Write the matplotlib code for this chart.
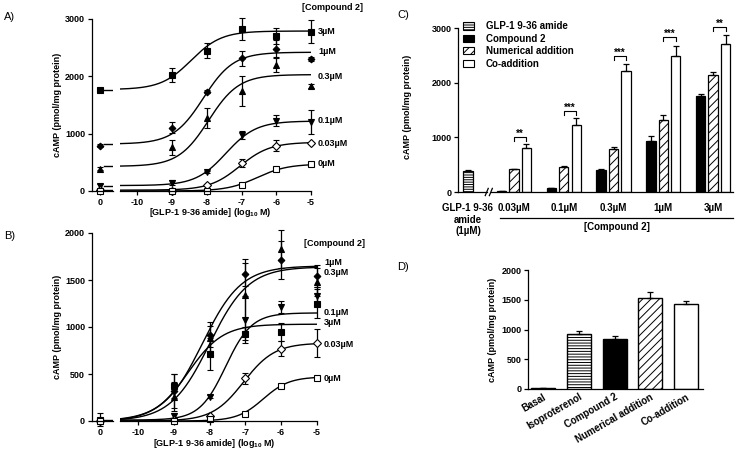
import matplotlib
matplotlib.use("Agg")
import matplotlib.pyplot as plt
from matplotlib.patches import Patch
import numpy as np

plt.rcParams['font.family'] = ['Liberation Sans', 'DejaVu Sans']
plt.rcParams['font.weight'] = 'bold'
plt.rcParams['font.size'] = 6.5
plt.rcParams['axes.linewidth'] = 0.9
plt.rcParams['axes.unicode_minus'] = False
plt.rcParams['hatch.linewidth'] = 0.7
plt.rcParams['xtick.major.width'] = 0.9
plt.rcParams['ytick.major.width'] = 0.9
plt.rcParams['mathtext.fontset'] = 'custom'
plt.rcParams['mathtext.rm'] = 'Liberation Sans:bold'
plt.rcParams['mathtext.bf'] = 'Liberation Sans:bold'

W, H = 737, 454

# ---------------- data ----------------
log_conc = [-9, -8, -7, -6, -5]
conc_labels = ['3µM', '1µM', '0.3µM', '0.1µM', '0.03µM', '0µM']

# panel A : series order = conc_labels
a_zero = [1760, 790, 390, 90, 10, 0]
a_zero_err = [20, 30, 20, 30, 10, 5]
a_vals = [[2024, 2449, 2822, 2705, 2780],
          [1105, 1733, 2316, 2480, 2304],
          [762, 1269, 1750, 2199, 1832],
          [145, 337, 977, 1227, 1210],
          [5, 105, 483, 791, 832],
          [0, 5, 100, 384, 466]]
a_err = [[120, 130, 190, 140, 200],
         [90, 20, 130, 150, 40],
         [130, 175, 260, 120, 30],
         [40, 20, 70, 95, 210],
         [10, 20, 70, 90, 20],
         [5, 5, 10, 15, 15]]
# fitted curve parameters (bottom, top, logEC50, hill)
a_fit = [(1770, 2790, -8.45, 1.0),
         (820, 2420, -8.1, 1.0),
         (430, 2030, -7.95, 1.0),
         (95, 1220, -7.45, 1.0),
         (15, 850, -7.05, 1.0),
         (0, 470, -6.55, 1.0)]
a_label_y = [2775, 2426, 1990, 1222, 820, 471]

# panel B
b_zero = [10, 15, 0, 5, 0, 0]
b_zero_err = [20, 70, 10, 10, 5, 5]
b_vals = [[370, 714, 929, 946, 1250],
          [320, 920, 1560, 1714, 1543],
          [260, 880, 1340, 1832, 1482],
          [50, 260, 1078, 1214, 1330],
          [10, 54, 454, 768, 827],
          [0, 18, 71, 368, 461]]
b_err = [[130, 170, 70, 100, 150],
         [180, 130, 120, 200, 120],
         [150, 130, 380, 200, 150],
         [40, 20, 250, 60, 100],
         [10, 15, 60, 80, 150],
         [5, 5, 10, 10, 10]]
b_fit = [(0, 1030, -8.6, 0.9),
         (0, 1650, -8.2, 0.8),
         (0, 1640, -8.0, 0.8),
         (10, 1150, -7.55, 1.2),
         (0, 830, -7.05, 1.0),
         (0, 470, -6.5, 1.2)]
b_label_y = [1043, 1691, 1585, 1149, 809, 457]

markers = ['s', 'D', '^', 'v', 'D', 's']
faces = ['k', 'k', 'k', 'k', 'w', 'w']
msizes = [4.0, 3.4, 4.0, 4.0, 4.4, 3.8]

# panel C
c_groups = ['0.03µM', '0.1µM', '0.3µM', '1µM', '3µM']
c_glp = 385
c_glp_err = 10
c_cpd = [20, 70, 400, 940, 1760]
c_cpd_err = [4, 8, 20, 90, 40]
c_num = [415, 463, 787, 1317, 2146]
c_num_err = [10, 12, 30, 100, 55]
c_co = [800, 1226, 2220, 2494, 2707]
c_co_err = [80, 120, 130, 180, 160]
c_stars = ['**', '***', '***', '***', '**']
c_bracket = [1010, 1480, 2490, 2830, 3020]

# panel D
d_cats = ['Basal', 'Isoproterenol', 'Compound 2', 'Numerical addition', 'Co-addition']
d_vals = [10, 927, 844, 1525, 1430]
d_err = [3, 45, 45, 100, 55]

fig = plt.figure(figsize=(W / 100, H / 100), dpi=100)


def px_axes(x0, y0, x1, y1):
    # axes placed by pixel box (left, top, right, bottom)
    return fig.add_axes([x0 / W, 1 - y1 / H, (x1 - x0) / W, (y1 - y0) / H])


def logistic(x, p):
    bottom, top, ec50, hill = p
    return bottom + (top - bottom) / (1 + 10 ** ((ec50 - x) * hill))


def noclip(cont):
    for art in cont.get_children():
        art.set_clip_on(False)


def dose_panel(top_px, bottom_px, right_px, ymax, yticks, zero, zero_err,
               vals, errs, fits, label_y, label_names):
    axL = px_axes(92, top_px, 113, bottom_px)
    axR = px_axes(120, top_px, right_px, bottom_px)
    for ax in (axL, axR):
        ax.set_ylim(0, ymax)
        ax.spines['top'].set_visible(False)
        ax.spines['right'].set_visible(False)
        ax.tick_params(length=3, pad=2, labelsize=6.5)
        ax.patch.set_alpha(0)
    axR.spines['left'].set_visible(False)
    axR.set_yticks([])
    axL.set_yticks(yticks)
    axL.set_xlim(-0.8, 1.3)
    axL.set_xticks([0])
    axR.set_xlim(-10.5, -5)
    axR.set_xticks(range(-10, -4))
    xs = np.linspace(-10.5, -5, 300)
    for i in range(len(zero)):
        kw = dict(fmt=markers[i], mfc=faces[i], mec='k', ms=msizes[i], mew=0.8,
                  ecolor='k', elinewidth=0.9, capsize=2.2, capthick=0.9, color='k')
        noclip(axL.errorbar([0], [zero[i]], yerr=[zero_err[i]], **kw))
        axL.plot([0.4, 1.3], [fits[i][0], fits[i][0]], color='k', lw=1.0)
        axR.plot(xs, logistic(xs, fits[i]), color='k', lw=1.0)
        noclip(axR.errorbar(log_conc, vals[i], yerr=errs[i], **kw))
        axR.annotate(label_names[i], xy=(-5, label_y[i]), xytext=(5, 0),
                     textcoords='offset points', va='center', ha='left',
                     fontsize=6.5, annotation_clip=False)
    return axL, axR


# ---------------- panel A ----------------
dose_panel(19, 191, 311, 3000, [0, 1000, 2000, 3000], a_zero, a_zero_err,
           a_vals, a_err, a_fit, a_label_y, conc_labels)
fig.text(333 / W, 1 - 8 / H, '[Compound 2]', ha='center', va='center', fontsize=6.5)
fig.text(210 / W, 1 - 212 / H, '[GLP-1 9-36 amide] (log$_{\\mathbf{10}}$ M)',
         ha='center', va='center', fontsize=6.5)
fig.text(58 / W, 1 - 105 / H, 'cAMP (pmol/mg protein)', rotation=90,
         ha='center', va='center', fontsize=6.5)
fig.text(4 / W, 1 - 17 / H, 'A)', fontsize=8, weight='normal', va='center')

# ---------------- panel B ----------------
dose_panel(233, 421, 317, 2000, [0, 500, 1000, 1500, 2000], b_zero, b_zero_err,
           b_vals, b_err, b_fit, b_label_y, conc_labels)
fig.text(334 / W, 1 - 243 / H, '[Compound 2]', ha='center', va='center', fontsize=6.5)
fig.text(214 / W, 1 - 443 / H, '[GLP-1 9-36 amide] (log$_{\\mathbf{10}}$ M)',
         ha='center', va='center', fontsize=6.5)
fig.text(58 / W, 1 - 327 / H, 'cAMP (pmol/mg protein)', rotation=90,
         ha='center', va='center', fontsize=6.5)
fig.text(4 / W, 1 - 236 / H, 'B)', fontsize=8, weight='normal', va='center')

# ---------------- panel C ----------------
axC = px_axes(458, 28, 733, 192)
axC.set_xlim(-0.8, 21.3)
axC.set_ylim(0, 3000)
axC.set_yticks([0, 1000, 2000, 3000])
for s in ('top', 'right', 'bottom'):
    axC.spines[s].set_visible(False)
axC.tick_params(axis='y', length=3, pad=1.5, labelsize=6.5)
axC.tick_params(axis='x', length=0, pad=8, labelsize=7)

centers = [3.7 + 4 * i for i in range(len(c_groups))]
bw = 0.75
ekw = dict(ecolor='k', elinewidth=0.9, capsize=2.2, capthick=0.9, fmt='none')
axC.bar([0], [c_glp], bw, color='w', edgecolor='k', hatch='-------', lw=0.9)
axC.errorbar([0], [c_glp], yerr=[[0], [c_glp_err]], **ekw)
xb = [c - 1 for c in centers]
xw = [c + 1 for c in centers]
axC.bar(xb, c_cpd, bw, color='k', edgecolor='k', lw=0.9)
axC.errorbar(xb, c_cpd, yerr=[[0] * 5, c_cpd_err], **ekw)
axC.bar(centers, c_num, bw, color='w', edgecolor='k', hatch='////', lw=0.9)
axC.errorbar(centers, c_num, yerr=[[0] * 5, c_num_err], **ekw)
axC.bar(xw, c_co, bw, color='w', edgecolor='k', lw=0.9)
axC.errorbar(xw, c_co, yerr=[[0] * 5, c_co_err], **ekw)

for c, h, st in zip(centers, c_bracket, c_stars):
    axC.plot([c, c, c + 1, c + 1], [h - 70, h, h, h - 70], color='k', lw=0.8,
             clip_on=False)
    axC.text(c + 0.5, h, st, ha='center', va='baseline', fontsize=7)

tr = axC.get_xaxis_transform()
axC.plot([-0.8, 1.51], [0, 0], color='k', lw=0.9, transform=tr, clip_on=False)
axC.plot([1.84, 21.3], [0, 0], color='k', lw=0.9, transform=tr, clip_on=False)
for sx in (1.51, 1.84):
    axC.plot([sx - 0.12, sx + 0.12], [-0.022, 0.022], color='k', lw=0.9,
             transform=tr, clip_on=False)
axC.plot([2.57, 21.3], [-0.159, -0.159], color='k', lw=0.9, transform=tr, clip_on=False)
axC.text(12.0, -0.215, '[Compound 2]', ha='center', va='center', transform=tr, fontsize=7)
axC.set_xticks([0] + centers)
axC.set_xticklabels(['GLP-1 9-36\namide\n(1µM)'] + c_groups)

handles = [Patch(facecolor='w', edgecolor='k', hatch='-------', lw=0.8),
           Patch(facecolor='k', edgecolor='k', lw=0.8),
           Patch(facecolor='w', edgecolor='k', hatch='////', lw=0.8),
           Patch(facecolor='w', edgecolor='k', lw=0.8)]
axC.legend(handles, ['GLP-1 9-36 amide', 'Compound 2', 'Numerical addition', 'Co-addition'],
           loc='upper left', bbox_to_anchor=(0.02, 1.04), frameon=False, fontsize=7,
           handlelength=1.1, handleheight=0.75, handletextpad=1.2,
           labelspacing=0.25, borderpad=0, borderaxespad=0)
fig.text(408 / W, 1 - 107 / H, 'cAMP (pmol/mg protein)', rotation=90,
         ha='center', va='center', fontsize=6.5)
fig.text(397 / W, 1 - 15 / H, 'C)', fontsize=8, weight='normal', va='center')

# ---------------- panel D ----------------
axD = px_axes(528, 270, 703, 389)
axD.set_xlim(-0.42, 4.47)
axD.set_ylim(0, 2000)
axD.set_yticks([0, 500, 1000, 1500, 2000])
for s in ('top', 'right'):
    axD.spines[s].set_visible(False)
axD.tick_params(axis='y', length=3, pad=1.5, labelsize=6.5)
axD.tick_params(axis='x', length=0, pad=2, labelsize=7)
d_hatch = [None, '------', None, '////', None]
d_face = ['w', 'w', 'k', 'w', 'w']
xd = np.arange(len(d_cats))
for i in range(len(d_cats)):
    axD.bar(xd[i], d_vals[i], 0.67, color=d_face[i], edgecolor='k',
            hatch=d_hatch[i], lw=1.0)
axD.errorbar(xd, d_vals, yerr=[[0] * 5, d_err], **ekw)
axD.set_xticks(xd)
axD.set_xticklabels(d_cats, rotation=30, ha='right', va='top', rotation_mode='anchor')
fig.text(493 / W, 1 - 330 / H, 'cAMP (pmol/mg protein)', rotation=90,
         ha='center', va='center', fontsize=6.5)
fig.text(397 / W, 1 - 267 / H, 'D)', fontsize=8, weight='normal', va='center')

fig.savefig('out.png', dpi=100)
